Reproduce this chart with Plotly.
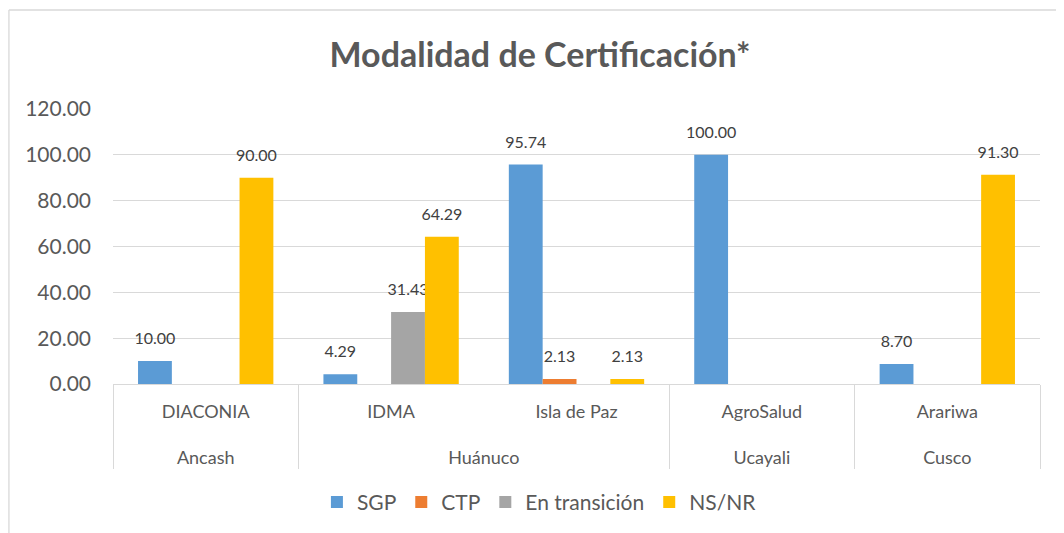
import plotly.graph_objects as go

regions = ["Ancash", "Huánuco", "Huánuco", "Ucayali", "Cusco"]
orgs = ["DIACONIA", "IDMA", "Isla de Paz", "AgroSalud", "Arariwa"]
series_names = ["SGP", "CTP", "En transición", "NS/NR"]
sgp = [10.00, 4.29, 95.74, 100.00, 8.70]
ctp = [None, None, 2.13, None, None]
transicion = [None, 31.43, None, None, None]
nsnr = [90.00, 64.29, 2.13, None, 91.30]
colors = ["#5B9BD5", "#ED7D31", "#A5A5A5", "#FFC000"]

FONT = "Lato, Carlito, 'Liberation Sans', sans-serif"
GRAY = "#595959"

W, H = 1064, 533
OFF = 8  # page body margin
L, R, T, B = 113 - OFF, W - (1040 - OFF), 109 - OFF, H - (384 - OFF)
PW, PH = W - L - R, H - T - B

SPAN = "<span style='font-size:18px'>%s</span>"
outer = ["<br>" + SPAN % r for r in regions]
inner = [SPAN % o for o in orgs]

fig = go.Figure()
for name, vals, col in zip(series_names, [sgp, ctp, transicion, nsnr], colors):
    fig.add_trace(go.Bar(
        name=name,
        x=[outer, inner],
        y=vals,
        marker=dict(color=col, line=dict(width=0)),
        text=[("<span style='font-size:16px'>%.2f</span><br> " % v) if v is not None else ""
              for v in vals],
        textposition="outside",
        constraintext="none",
        textfont=dict(family=FONT, size=9, color="#404040"),
        cliponaxis=False,
    ))

fig.update_layout(
    width=W, height=H,
    paper_bgcolor="white", plot_bgcolor="white",
    barmode="group", bargap=0.27, bargroupgap=0,
    margin=dict(l=L, r=R, t=T, b=B),
    title=dict(text="<b>Modalidad de Certificación*</b>", x=0.5, xanchor="center",
               y=1 - (55 - OFF) / H, yanchor="middle",
               font=dict(family=FONT, size=34, color=GRAY)),
    font=dict(family=FONT, color=GRAY),
    legend=dict(orientation="h", x=0.46, xanchor="center", y=-0.43, yanchor="middle",
                font=dict(family=FONT, size=21, color=GRAY), traceorder="normal"),
    showlegend=True,
)
fig.update_yaxes(range=[0, 120], dtick=20, tickformat=".2f", showgrid=True,
                 gridcolor="#D9D9D9", gridwidth=1.3, zeroline=False, showline=False,
                 tickfont=dict(family=FONT, size=21, color=GRAY), ticks="",
                 ticklabelstandoff=21, automargin=False)
fig.update_xaxes(type="multicategory", showline=True, linecolor="#D9D9D9", linewidth=1.3,
                 showdividers=True, dividercolor="#D9D9D9", dividerwidth=1.3,
                 tickfont=dict(family=FONT, size=22, color=GRAY), ticks="",
                 ticklabelstandoff=6, automargin=False)

ytop = 1 + (T - (10 - OFF)) / PH
xl = -L / PW + 0.001
fig.add_shape(type="line", xref="paper", yref="paper",
              x0=xl, x1=1 + R / PW, y0=ytop, y1=ytop,
              line=dict(color="#D9D9D9", width=1.3))
fig.add_shape(type="line", xref="paper", yref="paper",
              x0=xl, x1=xl, y0=ytop, y1=-B / PH,
              line=dict(color="#D9D9D9", width=1.3))

fig.write_html("out.html")
